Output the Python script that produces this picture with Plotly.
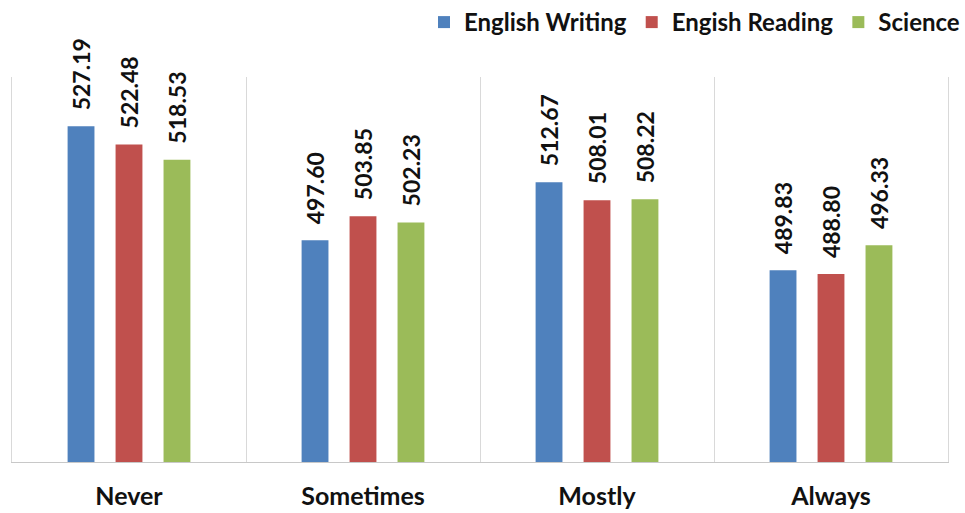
import plotly.graph_objects as go

# Frequency categories and mean scores per subject
categories = ["Never", "Sometimes", "Mostly", "Always"]
series_names = ["English Writing", "Engish Reading", "Science"]
english_writing = [527.19, 497.60, 512.67, 489.83]
english_reading = [522.48, 503.85, 508.01, 488.80]
science = [518.53, 502.23, 508.22, 496.33]

colors = ["#4F81BD", "#C0504D", "#9BBB59"]
font_family = "Lato, 'Open Sans', sans-serif"
text_color = "#111111"

series_values = [english_writing, english_reading, science]

BARGAP = 0.385
slot = (1 - BARGAP) / 3  # width of one bar slot in category units

fig = go.Figure()
for name, vals, col in zip(series_names, series_values, colors):
    fig.add_trace(go.Bar(
        x=categories, y=vals, name=name,
        marker=dict(color=col, line=dict(width=0)),
    ))

# Rotated value labels above each bar
annotations = []
for i, (vals, col) in enumerate(zip(series_values, colors)):
    for j, v in enumerate(vals):
        annotations.append(dict(
            x=j + (i - 1) * slot, y=v, xref="x", yref="y",
            text=f"{v:.2f}", showarrow=False, textangle=-90,
            xanchor="center", yanchor="bottom", yshift=14,
            font=dict(family=font_family, size=23, color=text_color, weight="bold"),
        ))

fig.update_layout(
    width=965, height=513,
    margin=dict(l=12, r=17, t=77, b=51),
    paper_bgcolor="white", plot_bgcolor="white",
    barmode="group", bargap=BARGAP, bargroupgap=0.44,
    showlegend=True,
    legend=dict(
        orientation="h", x=1.0, xanchor="right", xref="container",
        y=1.0, yanchor="top", yref="container",
        font=dict(family=font_family, size=24, color=text_color, weight="bold"),
        itemwidth=30, tracegroupgap=0, bgcolor="rgba(0,0,0,0)",
    ),
    annotations=annotations,
    xaxis=dict(
        type="category", range=[-0.5, 3.5], automargin=False,
        tickson="boundaries", showgrid=True, gridcolor="#d9d9d9", gridwidth=1,
        ticks="", showline=True, linecolor="#c8c8c8", linewidth=1,
        tickfont=dict(family=font_family, size=25, color=text_color, weight="bold"),
        ticklabelstandoff=12,
    ),
    yaxis=dict(
        range=[440, 540], automargin=False, showticklabels=False, ticks="",
        showgrid=False, zeroline=False,
        showline=True, mirror=True, linecolor="#d9d9d9", linewidth=1,
    ),
)

fig.write_html("out.html")
